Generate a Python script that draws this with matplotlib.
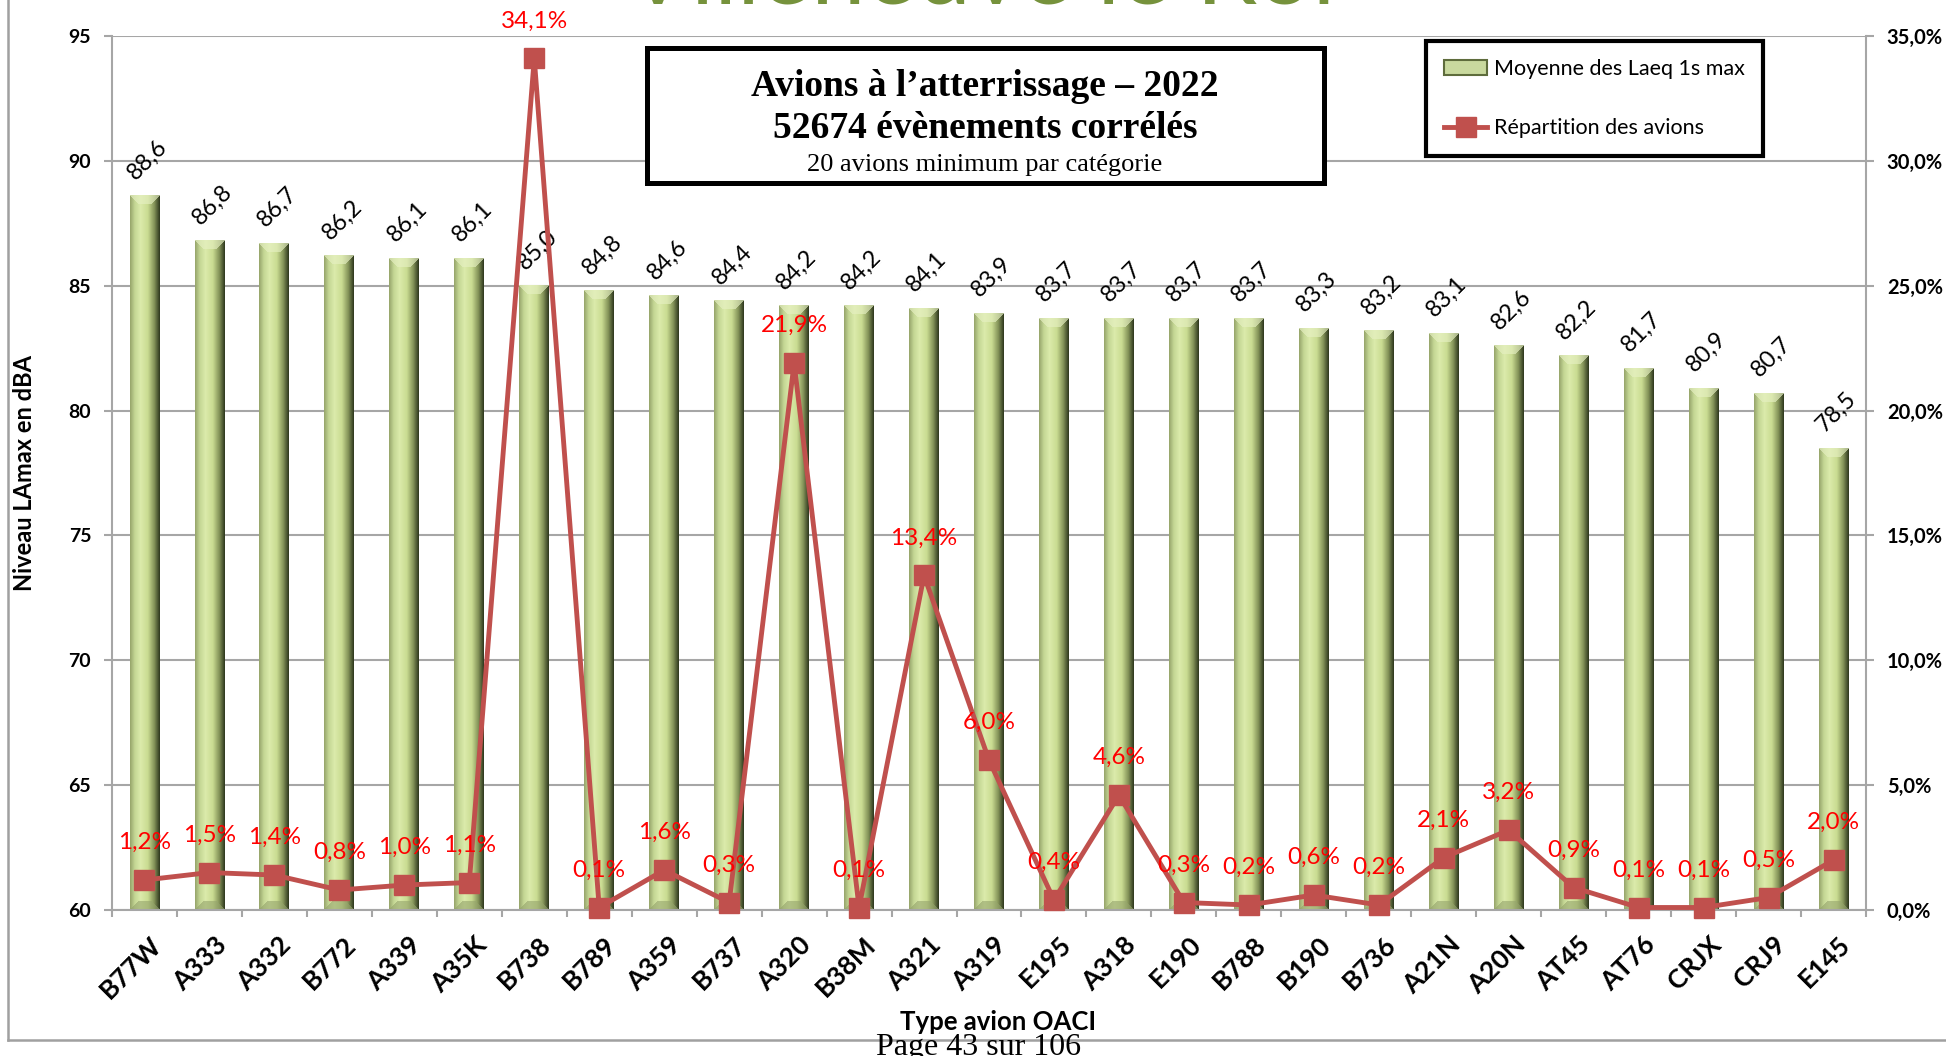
import numpy as np
import matplotlib.pyplot as plt
from matplotlib.patches import Rectangle, Patch
from matplotlib.lines import Line2D
from matplotlib.ticker import FuncFormatter, MultipleLocator, FixedLocator

plt.rcParams['font.family'] = ['Lato', 'DejaVu Sans']

# données
types = ["B77W", "A333", "A332", "B772", "A339", "A35K", "B738", "B789", "A359",
         "B737", "A320", "B38M", "A321", "A319", "E195", "A318", "E190", "B788",
         "B190", "B736", "A21N", "A20N", "AT45", "AT76", "CRJX", "CRJ9", "E145"]
laeq = [88.6, 86.8, 86.7, 86.2, 86.1, 86.1, 85.0, 84.8, 84.6, 84.4, 84.2, 84.2,
        84.1, 83.9, 83.7, 83.7, 83.7, 83.7, 83.3, 83.2, 83.1, 82.6, 82.2, 81.7,
        80.9, 80.7, 78.5]
repart = [1.2, 1.5, 1.4, 0.8, 1.0, 1.1, 34.1, 0.1, 1.6, 0.3, 21.9, 0.1, 13.4,
          6.0, 0.4, 4.6, 0.3, 0.2, 0.6, 0.2, 2.1, 3.2, 0.9, 0.1, 0.1, 0.5, 2.0]
y_ticks = [60, 65, 70, 75, 80, 85, 90, 95]

W, H = 1946, 1056
fig = plt.figure(figsize=(W / 100, H / 100), dpi=100)
ax = fig.add_axes([112 / W, 146 / H, 1754 / W, 874 / H])
ax2 = ax.twinx()

grey = '#a6a6a6'
red_line = '#c0504d'
bw = 0.46
ymin, ymax = 60, 95


def bevel_img(h, w=30, b=9):
    # barre "biseautée" façon Excel : dégradé horizontal + biseaux haut/bas
    pos = [0.0, 0.15, 0.35, 0.6, 0.82, 1.0]
    cols = np.array([[0.60, 0.66, 0.43], [0.77, 0.84, 0.58], [0.86, 0.92, 0.67],
                     [0.79, 0.86, 0.57], [0.52, 0.58, 0.35], [0.20, 0.24, 0.13]])
    x = np.linspace(0, 1, w)
    base = np.stack([np.interp(x, pos, cols[:, k]) for k in range(3)], axis=1)
    img = np.tile(base[None, :, :], (h, 1, 1))
    r = np.arange(h)[:, None]
    c = np.arange(w)[None, :]
    dl, dr, dt, db = c, w - 1 - c, r, h - 1 - r
    top = (dt < b) & (dt <= dl) & (dt <= dr)
    bot = (db < b) & (db <= dl) & (db <= dr)
    light = np.array([0.90, 0.94, 0.76])
    dark = np.array([0.58, 0.64, 0.42])
    img[top] = img[top] * 0.35 + light * 0.65
    img[bot] = img[bot] * 0.4 + dark * 0.6
    return np.clip(img, 0, 1)


for i, v in enumerate(laeq):
    hpx = max(int(round((v - ymin) / (ymax - ymin) * 874)), 20)
    ax.imshow(bevel_img(hpx), extent=(i - bw / 2, i + bw / 2, ymin, v),
              origin='upper', aspect='auto', interpolation='bilinear', zorder=2)
    ax.annotate(f"{v:.1f}".replace('.', ','), (i, v), xytext=(2, 26),
                textcoords='offset points', rotation=45, ha='center', va='center',
                fontsize=17, color='black', zorder=3)

ax.set_xlim(-0.5, len(types) - 0.5)
ax.set_ylim(ymin, ymax)
ax.set_yticks(y_ticks)
ax.grid(axis='y', color=grey, lw=1.5, zorder=0)
ax.set_axisbelow(True)
# étiquettes décalées un peu à droite comme dans Excel
ax.set_xticks(np.arange(len(types)) + 0.2)
ax.set_xticklabels(types, rotation=45, ha='right', va='center',
                   rotation_mode='anchor', fontsize=19, fontweight='bold')
ax.xaxis.set_minor_locator(FixedLocator(np.arange(-0.5, len(types), 1.0)))
ax.tick_params(axis='x', which='major', length=0, pad=22)
ax.tick_params(axis='x', which='minor', length=5, width=1.5, color=grey, direction='out')
ax.tick_params(axis='y', length=6, width=1.5, color=grey, direction='out', pad=9,
               labelsize=14)
for t in ax.get_yticklabels():
    t.set_fontweight('bold')
for s in ['top', 'right']:
    ax.spines[s].set_visible(False)
for s in ['left', 'bottom']:
    ax.spines[s].set_color(grey)
    ax.spines[s].set_linewidth(1.5)

ax.set_ylabel("Niveau LAmax en dBA", fontsize=17, fontweight='bold', labelpad=23)
ax.set_xlabel("Type avion OACI", fontsize=18.5, fontweight='bold')
ax.xaxis.set_label_coords(0.505, -(1010 - 910) / 874)

# courbe de répartition (axe de droite)
x = np.arange(len(types))
ax2.plot(x, np.array(repart) / 100, color=red_line, lw=3.5, marker='s', ms=14.5,
         clip_on=False, zorder=3)
for i, p in enumerate(repart):
    ax2.annotate(f"{p:.1f}%".replace('.', ','), (i, p / 100), xytext=(0, 27),
                 textcoords='offset points', ha='center', va='center',
                 fontsize=17.5, color='red', zorder=4)
ax2.set_ylim(0, 0.35)
ax2.yaxis.set_major_locator(MultipleLocator(0.05))
ax2.yaxis.set_major_formatter(FuncFormatter(lambda y, _: f"{y * 100:.1f}%".replace('.', ',')))
ax2.tick_params(axis='y', length=6, width=1.5, color=grey, direction='out', pad=9,
                labelsize=14.5)
for t in ax2.get_yticklabels():
    t.set_fontweight('bold')
for s in ['top', 'left', 'bottom']:
    ax2.spines[s].set_visible(False)
ax2.spines['right'].set_color(grey)
ax2.spines['right'].set_linewidth(1.5)

# légende
handles = [Patch(facecolor='#c9d99e', edgecolor='#5e6c3c', lw=1.5),
           Line2D([], [], color=red_line, lw=3.5, marker='s', ms=14.5)]
leg = fig.legend(handles, ["Moyenne des Laeq 1s max", "Répartition des avions"],
                 loc='upper left', bbox_to_anchor=(1426 / W, 1 - 41 / H),
                 bbox_transform=fig.transFigure, fancybox=False, edgecolor='black',
                 fontsize=15.5, borderpad=0.85, labelspacing=1.8, handlelength=2.0,
                 handletextpad=0.3, borderaxespad=0, framealpha=1)
leg.get_frame().set_linewidth(3)

# cartouche titre
fig.add_artist(Rectangle((647 / W, 1 - 183 / H), (1324 - 647) / W, (183 - 48) / H,
                         transform=fig.transFigure, facecolor='white',
                         edgecolor='black', lw=3.6, zorder=4))
serif = ['Liberation Serif', 'DejaVu Serif']
fig.text(985 / W, 1 - 87 / H, "Avions à l’atterrissage – 2022", ha='center', va='center',
         fontsize=27, fontweight='bold', family=serif, zorder=5)
fig.text(985 / W, 1 - 129 / H, "52674 évènements corrélés", ha='center', va='center',
         fontsize=27, fontweight='bold', family=serif, zorder=5)
fig.text(985 / W, 1 - 165 / H, "20 avions minimum par catégorie", ha='center',
         va='center', fontsize=19, family=serif, zorder=5)

# éléments de page coupés (en-tête / pied de page)
fig.text(980 / W, 1 - 4 / H, "Villeneuve le Roi", ha='center', va='baseline',
         fontsize=70, color='#76923c', zorder=5)
fig.text(979 / W, 1 - 1033 / H, "Page 43 sur 106", ha='center', va='top',
         fontsize=23, family=serif, zorder=5)
fig.add_artist(Line2D([8 / W, 8 / W], [1 - 1040 / H, 1.0], transform=fig.transFigure,
                      color='#a0a0a0', lw=1.8))
fig.add_artist(Line2D([8 / W, 1.0], [1 - 1040 / H, 1 - 1040 / H],
                      transform=fig.transFigure, color='#a0a0a0', lw=1.8))

fig.savefig('out.png', dpi=100, facecolor='white')
